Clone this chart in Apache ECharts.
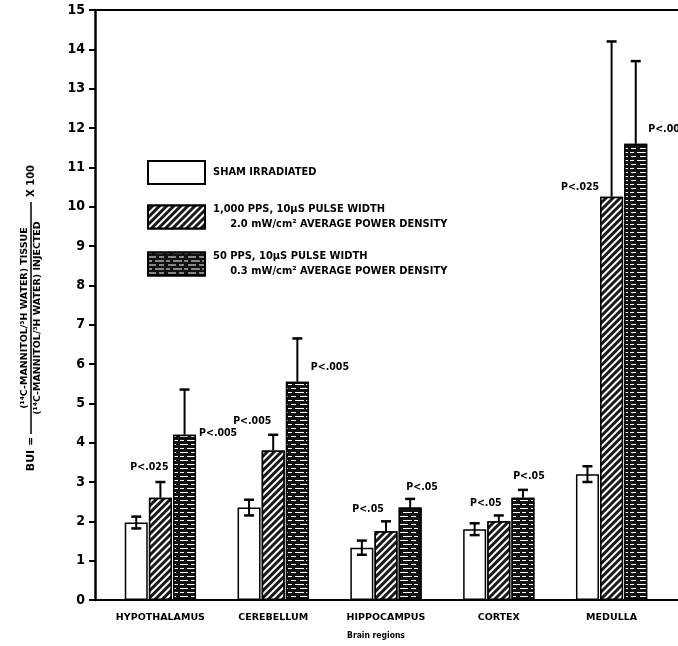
<!DOCTYPE html>
<html>
<head>
<meta charset="utf-8">
<script src="https://cdn.jsdelivr.net/npm/echarts@6/dist/echarts.min.js"></script>
<style>html,body{margin:0;padding:0;background:#fff;}#c{width:678px;height:646px;}</style>
</head>
<body>
<div id="c"></div>
<script>
// ---- data ----
const categories = ['HYPOTHALAMUS', 'CEREBELLUM', 'HIPPOCAMPUS', 'CORTEX', 'MEDULLA'];
const seriesNames = [
  'SHAM IRRADIATED',
  '1,000 PPS, 10\u03bcS PULSE WIDTH\n     2.0 mW/cm\u00b2 AVERAGE POWER DENSITY',
  '50 PPS, 10\u03bcS PULSE WIDTH\n     0.3 mW/cm\u00b2 AVERAGE POWER DENSITY'
];
const shamValues = [1.97, 2.35, 1.33, 1.8, 3.2];
const shamErr = [0.15, 0.2, 0.18, 0.15, 0.2];
const pps1000Values = [2.6, 3.8, 1.75, 2.0, 10.25];
const pps1000Err = [0.4, 0.4, 0.25, 0.15, 3.95];
const pps50Values = [4.2, 5.55, 2.35, 2.6, 11.6];
const pps50Err = [1.15, 1.1, 0.22, 0.2, 2.1];
const pps1000P = ['P<.025', 'P<.005', 'P<.05', 'P<.05', 'P<.025'];
const pps50P = ['P<.005', 'P<.005', 'P<.05', 'P<.05', 'P<.005'];
const yMin = 0, yMax = 15, yStep = 1;

// ---- styling / placement (not data) ----
const BAR_W = 23, GAP_FRAC = 0.05;
const FONT = '"DejaVu Sans Condensed", "DejaVu Sans", sans-serif';
const placeP = [
  null,
  [{m: 'above', dx: -11, dy: -15}, {m: 'above', dx: -21, dy: -14}, {m: 'above', dx: -18, dy: -12}, {m: 'above', dx: -13, dy: -12}, {m: 'left', dx: -1, dy: -10}],
  [{m: 'right', dx: 3, dy: -2}, {m: 'right', dx: 2, dy: -14}, {m: 'above', dx: 12, dy: -12}, {m: 'above', dx: 6, dy: -14}, {m: 'right', dx: 1, dy: -14}]
];
const pLabels = [null, pps1000P, pps50P];

const valuesBy = [shamValues, pps1000Values, pps50Values];
const errBy = [shamErr, pps1000Err, pps50Err];
const errData = [];
for (let s = 0; s < 3; s++) {
  for (let i = 0; i < categories.length; i++) {
    const lo = s === 0 ? errBy[s][i] : 0;
    errData.push([i, valuesBy[s][i], lo, errBy[s][i], s]);
  }
}

function renderErr(params, api) {
  const i = api.value(0), v = api.value(1), lo = api.value(2), hi = api.value(3), s = api.value(4);
  const c = api.coord([i, v]);
  const step = BAR_W * (1 + GAP_FRAC);
  const x = c[0] + (s - 1) * step;
  const yTop = api.coord([i, v + hi])[1];
  const yBot = api.coord([i, v - lo])[1];
  const ls = {stroke: '#000', lineWidth: 2};
  const ch = [
    {type: 'line', shape: {x1: x, y1: yTop, x2: x, y2: yBot}, style: ls},
    {type: 'line', shape: {x1: x - 5, y1: yTop, x2: x + 5, y2: yTop}, style: {stroke: '#000', lineWidth: 2.5}}
  ];
  if (lo > 0) ch.push({type: 'line', shape: {x1: x - 5, y1: yBot, x2: x + 5, y2: yBot}, style: {stroke: '#000', lineWidth: 2.5}});
  if (pLabels[s]) {
    const p = placeP[s][i];
    const txt = pLabels[s][i];
    let tx, ty, align;
    if (p.m === 'above') { tx = x + p.dx; ty = yTop + p.dy; align = 'center'; }
    else if (p.m === 'right') { tx = x + BAR_W / 2 + p.dx; ty = c[1] + p.dy; align = 'left'; }
    else { tx = x - BAR_W / 2 + p.dx; ty = c[1] + p.dy; align = 'right'; }
    ch.push({type: 'text', x: tx, y: ty, style: {text: txt, fill: '#000', font: 'bold 10.5px ' + FONT, align: align, verticalAlign: 'middle'}});
  }
  return {type: 'group', children: ch};
}

const chart = echarts.init(document.getElementById('c'), null, {renderer: 'canvas'});
const yLabelFont = 'bold 9.5px "DejaVu Sans", sans-serif';
const option = {
  animation: false,
  backgroundColor: '#fff',
  grid: [
    {left: 95, right: 0, top: 10, bottom: 46},
    {left: 104, right: 10, top: 10, bottom: 46}
  ],
  legend: {
    data: seriesNames,
    orient: 'vertical',
    left: 142, top: 155,
    icon: 'rect',
    itemWidth: 57, itemHeight: 23, itemGap: 17,
    selectedMode: false,
    textStyle: {color: '#000', fontFamily: FONT, fontWeight: 'bold', fontSize: 11, lineHeight: 15, padding: [0, 0, 0, 3]}
  },
  xAxis: [
    {gridIndex: 0, type: 'category', data: categories, position: 'bottom',
     axisLine: {lineStyle: {color: '#000', width: 2}}, axisTick: {show: false}, axisLabel: {show: false}, splitLine: {show: false}},
    {gridIndex: 1, type: 'category', data: categories, position: 'bottom',
     axisLine: {show: false}, axisTick: {show: false}, splitLine: {show: false},
     axisLabel: {interval: 0, color: '#000', fontFamily: '"DejaVu Sans", sans-serif', fontWeight: 'bold', fontSize: 9.5, margin: 13},
     name: 'Brain regions', nameLocation: 'middle', nameGap: 31,
     nameTextStyle: {color: '#000', fontFamily: FONT, fontWeight: 'bold', fontSize: 8.5, padding: [0, 20, 0, 0]}},
    {gridIndex: 0, type: 'category', data: categories, position: 'top',
     axisLine: {lineStyle: {color: '#000', width: 2}}, axisTick: {show: false}, axisLabel: {show: false}, splitLine: {show: false}}
  ],
  yAxis: [
    {gridIndex: 0, type: 'value', min: yMin, max: yMax, interval: yStep,
     axisLine: {show: true, lineStyle: {color: '#000', width: 2.5}},
     axisTick: {show: true, length: 6, lineStyle: {color: '#000', width: 2}},
     axisLabel: {color: '#000', fontFamily: FONT, fontWeight: 'bold', fontSize: 14, margin: 10},
     splitLine: {show: false}},
    {gridIndex: 1, type: 'value', min: yMin, max: yMax, interval: yStep, show: false, splitLine: {show: false}}
  ],
  graphic: [{
    type: 'group', x: 31, y: 318, rotation: Math.PI / 2,
    children: [
      {type: 'text', x: -136, y: 0, style: {text: 'BUI =', font: 'bold 11px "DejaVu Sans", sans-serif', fill: '#000', align: 'center', verticalAlign: 'middle'}},
      {type: 'text', x: 0, y: -6, style: {text: '(\u00b9\u2074C-MANNITOL/\u00b3H WATER) TISSUE', font: yLabelFont, fill: '#000', align: 'center', verticalAlign: 'middle'}},
      {type: 'line', shape: {x1: -116, y1: 0, x2: 116, y2: 0}, style: {stroke: '#000', lineWidth: 1.5}},
      {type: 'text', x: 0, y: 7, style: {text: '(\u00b9\u2074C-MANNITOL/\u00b3H WATER) INJECTED', font: yLabelFont, fill: '#000', align: 'center', verticalAlign: 'middle'}},
      {type: 'text', x: 121, y: 0, style: {text: 'X 100', font: 'bold 10px "DejaVu Sans", sans-serif', fill: '#000', align: 'left', verticalAlign: 'middle'}}
    ]
  }],
  series: [
    {name: seriesNames[0], type: 'bar', xAxisIndex: 1, yAxisIndex: 1, data: shamValues,
     barWidth: BAR_W, barGap: (GAP_FRAC * 100) + '%',
     itemStyle: {color: '#fff', borderColor: '#000', borderWidth: 1.5}},
    {name: seriesNames[1], type: 'bar', xAxisIndex: 1, yAxisIndex: 1, data: pps1000Values,
     barWidth: BAR_W, barGap: (GAP_FRAC * 100) + '%',
     itemStyle: {color: '#1a1a1a', borderColor: '#000', borderWidth: 1.5,
       decal: {symbol: 'rect', symbolSize: 1, rotation: -Math.PI / 4, dashArrayX: [1, 0], dashArrayY: [1.5, 3], color: '#fff'}}},
    {name: seriesNames[2], type: 'bar', xAxisIndex: 1, yAxisIndex: 1, data: pps50Values,
     barWidth: BAR_W, barGap: (GAP_FRAC * 100) + '%',
     itemStyle: {color: '#111', borderColor: '#000', borderWidth: 1.5,
       decal: {symbol: 'rect', symbolSize: 1, rotation: 0, dashArrayX: [[8, 3, 5, 4], [4, 3, 9, 2]], dashArrayY: [1, 2.5], color: '#fff'}}},
    {name: 'err', type: 'custom', xAxisIndex: 1, yAxisIndex: 1, data: errData, renderItem: renderErr, z: 5, silent: true}
  ]
};
chart.setOption(option);
</script>
</body>
</html>
